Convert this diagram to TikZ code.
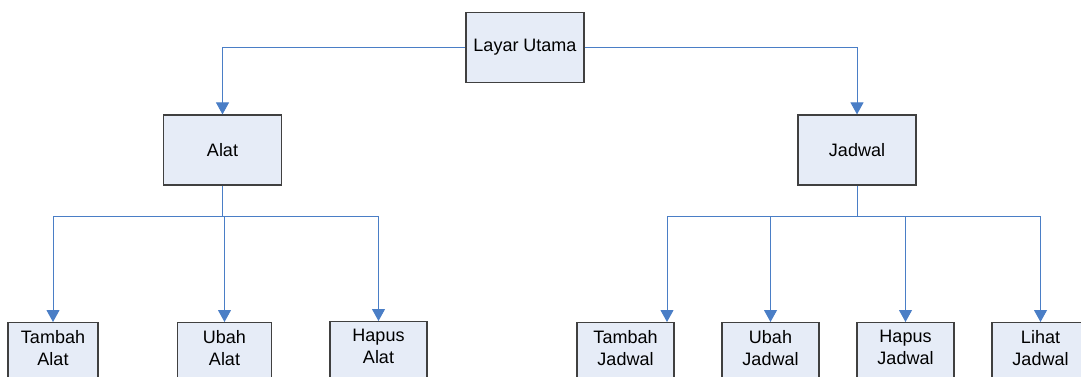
\documentclass[tikz,border=0pt]{standalone}
\usepackage{fontspec}
\setmainfont{Liberation Sans}
\usetikzlibrary{arrows.meta}
\definecolor{boxfill}{RGB}{230,236,247}
\definecolor{boxline}{RGB}{64,64,64}
\definecolor{conn}{RGB}{74,126,198}
\tikzset{
  box/.style={draw=boxline, line width=1.2pt, fill=boxfill, font=\fontsize{18}{22}\selectfont, align=center, inner sep=0pt},
  topbox/.style={box, minimum width=118pt, minimum height=70pt},
  leaf/.style={box, anchor=north, inner ysep=8pt, text depth=24pt},
  conn/.style={draw=conn, line width=1pt},
  arr/.style={conn, -{Triangle[width=13pt,length=12pt]}}
}
\begin{document}
\begin{tikzpicture}[x=1pt,y=-1pt]
\useasboundingbox (0,0) rectangle (1081,377);
\clip (0,0) rectangle (1081,377);
\node[topbox] (lu) at (525,47.5) {Layar Utama};
\node[topbox] (alat) at (222.5,150) {Alat};
\node[topbox] (jad) at (857,150) {Jadwal};
\node[leaf, minimum width=90pt] (ta) at (53,322) {Tambah\\Alat};
\node[leaf, minimum width=94pt] (ua) at (224.5,322) {Ubah\\Alat};
\node[leaf, minimum width=97pt] (ha) at (378.5,321) {Hapus\\Alat};
\node[leaf, minimum width=97pt] (tj) at (625.5,322) {Tambah\\Jadwal};
\node[leaf, minimum width=97pt] (uj) at (770.5,322) {Ubah\\Jadwal};
\node[leaf, minimum width=97pt] (hj) at (905.5,322) {Hapus\\Jadwal};
\node[leaf, minimum width=97pt] (lj) at (1040.5,322) {Lihat\\Jadwal};
\coordinate (ba) at (222.5,216);
\coordinate (bj) at (857,216);
\draw[arr] (lu.west) -| (alat.north);
\draw[arr] (lu.east) -| (jad.north);
\draw[conn] (alat.south) -- (ba);
\draw[conn] (jad.south) -- (bj);
\draw[arr] (ba) -| (ta.north);
\draw[arr] (ba) -| (ua.north);
\draw[arr] (ba) -| (ha.north);
\draw[arr] (bj) -| ([xshift=41.5pt]tj.north);
\draw[arr] (bj) -| (uj.north);
\draw[arr] (bj) -| (hj.north);
\draw[arr] (bj) -| (lj.north);
\end{tikzpicture}
\end{document}
